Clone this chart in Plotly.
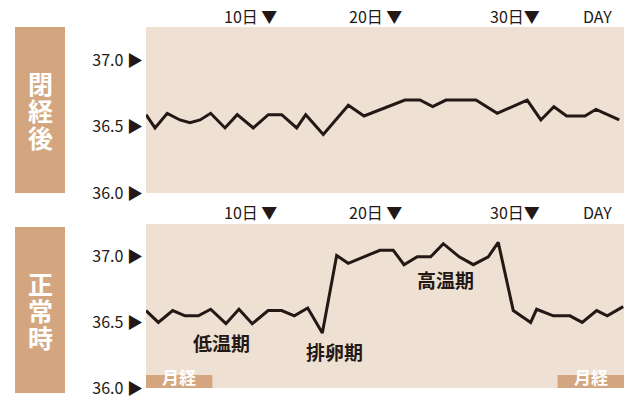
import plotly.graph_objects as go

# 閉経後 (after menopause) - day / body temperature
post_days = [1.0, 1.68, 2.6, 3.56, 4.31, 5.07, 5.87, 6.95, 7.87, 9.08, 10.21, 11.22,
             12.35, 13.03, 14.35, 16.24, 17.42, 20.5, 21.63, 22.59, 23.59, 25.85,
             27.45, 29.71, 30.74, 31.72, 32.68, 34.06, 34.89, 36.64]
post_temp = [36.59, 36.49, 36.60, 36.55, 36.53, 36.55, 36.60, 36.49, 36.59, 36.49, 36.59, 36.59,
             36.49, 36.59, 36.44, 36.66, 36.58, 36.70, 36.70, 36.65, 36.70, 36.70,
             36.60, 36.70, 36.55, 36.65, 36.58, 36.58, 36.63, 36.55]

# 正常時 (normal cycle)
norm_days = [1.0, 1.93, 3.01, 3.94, 4.94, 5.87, 7.02, 8.0, 9.0, 10.2, 11.22, 12.17,
             13.18, 14.28, 15.36, 16.23, 18.62, 19.62, 20.43, 21.43, 22.44, 23.39,
             24.59, 25.65, 26.78, 27.53, 28.66, 29.97, 30.42, 31.67, 32.93, 33.85,
             34.94, 35.74, 36.94]
norm_temp = [36.59, 36.50, 36.59, 36.55, 36.55, 36.60, 36.49, 36.60, 36.49, 36.59, 36.59, 36.55,
             36.61, 36.42, 37.01, 36.95, 37.05, 37.05, 36.94, 37.00, 37.00, 37.10,
             37.00, 36.94, 37.00, 37.11, 36.59, 36.50, 36.60, 36.55, 36.55, 36.50,
             36.59, 36.55, 36.62]

y_ticks = [36.0, 36.5, 37.0]
y_ticktext = ["36.0 ▶", "36.5 ▶", "37.0 ▶"]

day_labels = ["10日 ▼", "20日 ▼", "30日▼", "DAY"]
day_label_x = [8.9, 18.25, 28.8, 35.0]

phase_labels = ["低温期", "排卵期", "高温期"]
phase_x = [6.72, 15.23, 23.59]
phase_y = [36.35, 36.28, 36.83]

menses_start = [1, 32]
menses_end = [6, 37]

panel_titles = ["閉経後", "正常時"]

INK = "#231815"
BG = "#EEE0D2"
TAN = "#D4A67F"
FONT = "Noto Sans CJK JP"

# page has an 8px body margin, so the figure is drawn 8px in from the corner
OFF = 8
W, H = 640 - OFF, 400 - OFF
L, R, T, B = 146 - OFF, 16, 27 - OFF, 12
pw, ph = W - L - R, H - T - B


def px_x(x):
    # page pixel -> paper fraction
    return (x - OFF - L) / pw


def px_y(y):
    return (H - B - (y - OFF)) / ph


fig = go.Figure()
fig.add_trace(go.Scatter(x=post_days, y=post_temp, mode="lines",
                         line=dict(color=INK, width=3), xaxis="x", yaxis="y"))
fig.add_trace(go.Scatter(x=norm_days, y=norm_temp, mode="lines",
                         line=dict(color=INK, width=3), xaxis="x2", yaxis="y2"))

xa = dict(range=[1, 37], showgrid=False, zeroline=False, showticklabels=False,
          ticks="", showline=False, automargin=False)
ya = dict(range=[36.0, 37.25], tickvals=y_ticks, ticktext=y_ticktext, showgrid=False,
          zeroline=False, ticks="", showline=False, ticklabelstandoff=2, automargin=False,
          tickfont=dict(family=FONT, size=16, color=INK))

fig.update_layout(
    width=W, height=H,
    margin=dict(l=L, r=R, t=T, b=B, autoexpand=False),
    paper_bgcolor="white", plot_bgcolor=BG,
    showlegend=False,
    xaxis=dict(xa, domain=[0, 1], anchor="y"),
    yaxis=dict(ya, domain=[px_y(193), 1], anchor="x"),
    xaxis2=dict(xa, domain=[0, 1], anchor="y2"),
    yaxis2=dict(ya, domain=[0, px_y(224)], anchor="x2"),
)

annotations = []
shapes = []

# side boxes with vertical titles
for (top, bot), title in zip([(27, 193), (227, 393)], panel_titles):
    shapes.append(dict(type="rect", xref="paper", yref="paper",
                       x0=px_x(15), x1=px_x(65), y0=px_y(bot), y1=px_y(top),
                       fillcolor=TAN, line_width=0, layer="above"))
    mid = (top + bot) / 2
    for i, ch in enumerate(title):
        annotations.append(dict(xref="paper", yref="paper", x=px_x(40),
                                y=px_y(mid + (i - 1) * 27), text=ch, showarrow=False,
                                xanchor="center", yanchor="middle",
                                font=dict(family=FONT, size=25, color="white", weight="bold")))

# day labels above each panel
for xr, lab_y in [("x", 16), ("x2", 212)]:
    for lab, lx in zip(day_labels, day_label_x):
        annotations.append(dict(xref=xr, yref="paper", x=lx, y=px_y(lab_y), text=lab,
                                showarrow=False, xanchor="center", yanchor="middle",
                                font=dict(family=FONT, size=16, color=INK)))

# phase labels
for lab, lx, ly in zip(phase_labels, phase_x, phase_y):
    annotations.append(dict(xref="x2", yref="y2", x=lx, y=ly, text=lab, showarrow=False,
                            xanchor="center", yanchor="middle",
                            font=dict(family=FONT, size=19, color=INK, weight="bold")))

# menstruation bars
for s, e in zip(menses_start, menses_end):
    shapes.append(dict(type="rect", xref="x2", yref="y2", x0=s, x1=e, y0=36.0, y1=36.1,
                       fillcolor=TAN, line_width=0, layer="below"))
    annotations.append(dict(xref="x2", yref="y2", x=(s + e) / 2, y=36.09, text="月経",
                            showarrow=False, xanchor="center", yanchor="middle",
                            font=dict(family=FONT, size=17, color="white", weight="bold")))

fig.update_layout(annotations=annotations, shapes=shapes)

fig.write_html("out.html")
